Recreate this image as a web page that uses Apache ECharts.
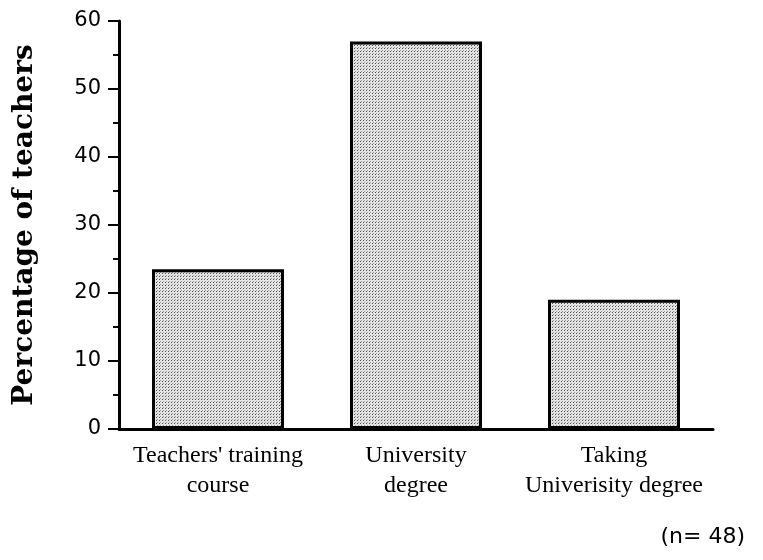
<!DOCTYPE html>
<html>
<head>
<meta charset="utf-8">
<script src="https://cdn.jsdelivr.net/npm/echarts@6/dist/echarts.min.js"></script>
<style>
  html, body { margin: 0; padding: 0; background: #fff; }
  #chart { width: 763px; height: 560px; }
</style>
</head>
<body>
<div id="chart"></div>
<script>
// categories and values
const categories = ["Teachers' training\ncourse", "University\ndegree", "Taking\nUniverisity degree"];
const percentages = [23.5, 57, 19];
const yTicks = [0, 10, 20, 30, 40, 50, 60];

// stippled grey fill like the scanned original
function stipple() {
  const c = document.createElement("canvas");
  c.width = 3;
  c.height = 3;
  const ctx = c.getContext("2d");
  ctx.fillStyle = "#e4e4e4";
  ctx.fillRect(0, 0, 3, 3);
  ctx.fillStyle = "#505050";
  ctx.fillRect(0, 0, 1, 1);
  ctx.fillStyle = "#9a9a9a";
  ctx.fillRect(1, 2, 1, 1);
  return c;
}

const chart = echarts.init(document.getElementById("chart"));
chart.setOption({
  animation: false,
  grid: { left: 119, right: 50, top: 21, bottom: 131 },
  xAxis: {
    type: "category",
    data: categories,
    axisLine: { lineStyle: { color: "#000", width: 3 } },
    axisTick: { alignWithLabel: true, length: 10, lineStyle: { color: "#000", width: 2 } },
    axisLabel: {
      interval: 0,
      color: "#000",
      fontFamily: "Liberation Serif",
      fontSize: 24,
      lineHeight: 30,
      margin: 12
    }
  },
  yAxis: {
    type: "value",
    min: yTicks[0],
    max: yTicks[yTicks.length - 1],
    interval: 10,
    name: "Percentage of teachers",
    nameLocation: "middle",
    nameRotate: 90,
    nameGap: 80,
    nameTextStyle: {
      color: "#000",
      fontFamily: "DejaVu Serif",
      fontWeight: "bold",
      fontSize: 28
    },
    splitLine: { show: false },
    axisLine: { show: true, lineStyle: { color: "#000", width: 3 } },
    axisTick: { show: true, length: 11, lineStyle: { color: "#000", width: 2 } },
    minorTick: { show: true, splitNumber: 2, length: 6, lineStyle: { color: "#000", width: 2 } },
    axisLabel: {
      color: "#000",
      fontFamily: "DejaVu Sans",
      fontSize: 21,
      margin: 18
    }
  },
  series: [{
    type: "bar",
    data: percentages,
    barWidth: 132,
    itemStyle: {
      color: { image: stipple(), repeat: "repeat" },
      borderColor: "#000",
      borderWidth: 3
    }
  }],
  graphic: [{
    type: "text",
    right: 18,
    top: 526,
    style: {
      text: "(n= 48)",
      fill: "#000",
      font: "22px 'DejaVu Sans'"
    }
  }]
});
</script>
</body>
</html>
